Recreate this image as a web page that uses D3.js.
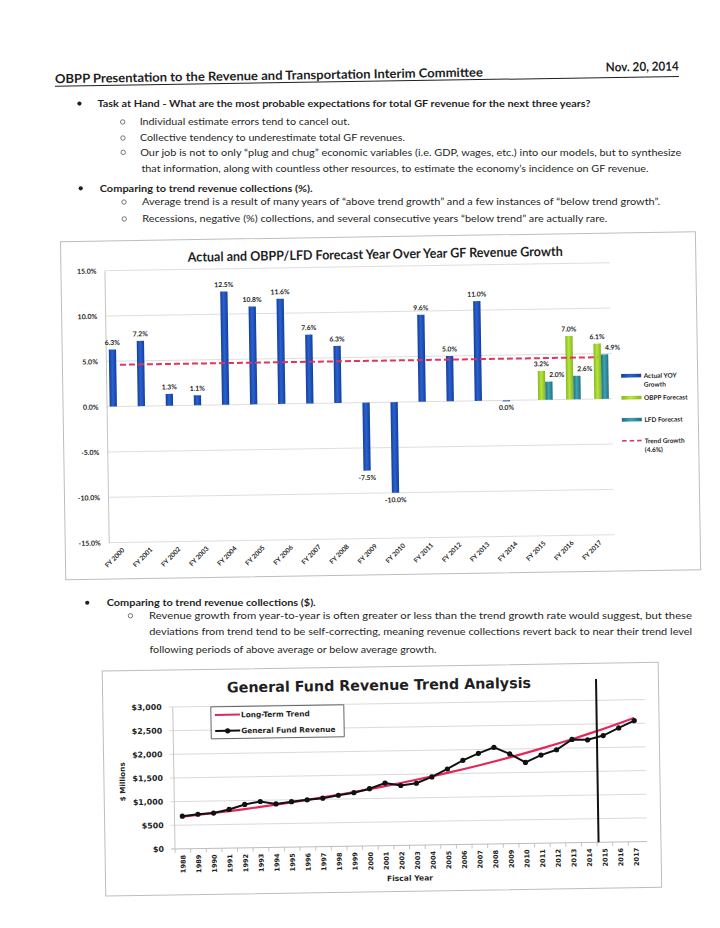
<!DOCTYPE html>
<html>
<head>
<meta charset="utf-8">
<script src="https://cdn.jsdelivr.net/npm/d3@7"></script>
<style>
  body { margin: 0; background: #fff; }
  svg { display: block; }
</style>
</head>
<body>
<div id="canvas"></div>
<script>
/* YOY growth chart */
const fiscalYears = ["FY 2000", "FY 2001", "FY 2002", "FY 2003", "FY 2004", "FY 2005", "FY 2006", "FY 2007", "FY 2008",
    "FY 2009", "FY 2010", "FY 2011", "FY 2012", "FY 2013", "FY 2014", "FY 2015", "FY 2016", "FY 2017"];
const actualGrowth = [6.3, 7.2, 1.3, 1.1, 12.5, 10.8, 11.6, 7.6, 6.3, -7.5, -10.0, 9.6, 5.0, 11.0, 0.0, null, null, null];
const obppForecast = [null, null, null, null, null, null, null, null, null, null, null, null, null, null, null, 3.2, 7.0, 6.1];
const lfdForecast = [null, null, null, null, null, null, null, null, null, null, null, null, null, null, null, 2.0, 2.6, 4.9];
const trendGrowth = 4.6;
const growthTicks = [-15, -10, -5, 0, 5, 10, 15];

/* revenue trend chart */
const revenueYears = ["1988", "1989", "1990", "1991", "1992", "1993", "1994", "1995", "1996", "1997", "1998", "1999", "2000",
    "2001", "2002", "2003", "2004", "2005", "2006", "2007", "2008", "2009", "2010", "2011", "2012", "2013", "2014",
    "2015", "2016", "2017"];
const gfRevenue = [689, 725, 746, 817, 917, 974, 917, 960, 995, 1023, 1080, 1130, 1208, 1322, 1265, 1308, 1436, 1599,
    1777, 1919, 2040, 1898, 1713, 1862, 1969, 2182, 2168, 2253, 2409, 2559];
const longTermTrend = [680, 712, 746, 782, 820, 860, 902, 946, 992, 1040, 1091, 1144, 1199, 1257, 1318, 1381, 1447, 1516,
    1588, 1663, 1741, 1823, 1908, 1997, 2090, 2187, 2288, 2393, 2503, 2617];
const revenueTicks = [0, 500, 1000, 1500, 2000, 2500, 3000];
const forecastStart = "2015";
const dividerTop = 3450;

const width = 720;
const height = 928;
const body = "Lato, 'Liberation Sans', sans-serif";
const verdana = "'DejaVu Sans', Verdana, sans-serif";
const ink = "#1f1f1f";

const svg = d3.select("#canvas").append("svg")
    .attr("width", width)
    .attr("height", height);
svg.append("rect").attr("width", width).attr("height", height).attr("fill", "#fff");

const defs = svg.append("defs");
function barGradient(id, edge, mid) {
    const gr = defs.append("linearGradient").attr("id", id)
        .attr("x1", 0).attr("x2", 1).attr("y1", 0).attr("y2", 0);
    gr.append("stop").attr("offset", 0).attr("stop-color", edge);
    gr.append("stop").attr("offset", 0.45).attr("stop-color", mid);
    gr.append("stop").attr("offset", 1).attr("stop-color", edge);
}
barGradient("gActual", "#143e9c", "#2a62d0");
barGradient("gObpp", "#84b81c", "#b8e440");
barGradient("gLfd", "#21707f", "#3ea3b3");

// the scanned page is a little crooked
const tilt = -0.9;
const page = svg.append("g").attr("transform", `rotate(${tilt},360,464)`);
const flat = svg.append("g");

function rot(x, y) {
    const a = tilt * Math.PI / 180;
    const dx = x - 360, dy = y - 464;
    return [360 + dx * Math.cos(a) - dy * Math.sin(a), 464 + dx * Math.sin(a) + dy * Math.cos(a)];
}

// body text lines stay level, only their position follows the tilt
function textLine(str, x, y, w, size, weight, mark) {
    const start = rot(x, y);
    const my = rot(x + w / 2, y)[1];
    flat.append("text")
        .attr("x", start[0]).attr("y", my)
        .attr("font-family", body)
        .attr("font-size", size)
        .attr("font-weight", weight || "normal")
        .attr("fill", ink)
        .attr("textLength", w)
        .attr("lengthAdjust", "spacingAndGlyphs")
        .text(str);
    if (mark === "dot") {
        flat.append("circle").attr("cx", rot(85, y)[0]).attr("cy", my - 3.6).attr("r", 2.1).attr("fill", ink);
    } else if (mark === "o") {
        flat.append("circle").attr("cx", rot(128, y)[0]).attr("cy", my - 3.3).attr("r", 2.2)
            .attr("fill", "none").attr("stroke", "#555").attr("stroke-width", 0.8);
    }
}

/* ---- page text ---- */
const head = page.append("g").attr("font-family", body).attr("font-size", 12.5)
    .attr("font-weight", "bold").attr("fill", ink);
head.append("text").attr("x", 61).attr("y", 78.5)
    .attr("textLength", 428).attr("lengthAdjust", "spacingAndGlyphs")
    .text("OBPP Presentation to the Revenue and Transportation Interim Committee");
head.append("text").attr("x", 612).attr("y", 75.5)
    .attr("textLength", 73).attr("lengthAdjust", "spacingAndGlyphs")
    .text("Nov. 20, 2014");
page.append("line").attr("x1", 61).attr("x2", 685).attr("y1", 81.5).attr("y2", 81.5)
    .attr("stroke", ink).attr("stroke-width", 1);

textLine("Task at Hand - What are the most probable expectations for total GF revenue for the next three years?", 103, 107, 493, 10.2, "bold", "dot");
textLine("Individual estimate errors tend to cancel out.", 145, 123.5, 210, 10.2, null, "o");
textLine("Collective tendency to underestimate total GF revenues.", 145, 140, 265, 10.2, null, "o");
textLine("Our job is not to only \u201cplug and chug\u201d economic variables (i.e. GDP, wages, etc.) into our models, but to synthesize", 145, 156.5, 541, 10.2, null, "o");
textLine("that information, along with countless other resources, to estimate the economy\u2019s incidence on GF revenue.", 146, 173, 507, 10.2);
textLine("Comparing to trend revenue collections (%).", 104, 189.5, 213, 10.2, "bold", "dot");
textLine("Average trend is a result of many years of \u201cabove trend growth\u201d and a few instances of \u201cbelow trend growth\u201d.", 146, 206, 518, 10.2, null, "o");
textLine("Recessions, negative (%) collections, and several consecutive years \u201cbelow trend\u201d are actually rare.", 146, 222.5, 465, 10.2, null, "o");

textLine("Comparing to trend revenue collections ($).", 104.5, 604, 209, 10.2, "bold", "dot");
textLine("Revenue growth from year-to-year is often greater or less than the trend growth rate would suggest, but these", 146.5, 620, 543, 10.2, null, "o");
textLine("deviations from trend tend to be self-correcting, meaning revenue collections revert back to near their trend level", 146.5, 636, 543, 10.2);
textLine("following periods of above average or below average growth.", 146.5, 652, 287, 10.2);

/* ---- chart 1: YOY growth ---- */
const box1 = { x: 64, y: 237, w: 635, h: 338 };
const m1 = { left: 107.5, right: 613, top: 266.7, bottom: 538.7 };

page.append("rect").attr("x", box1.x).attr("y", box1.y).attr("width", box1.w).attr("height", box1.h)
    .attr("fill", "#fff").attr("stroke", "#bdbdbd").attr("stroke-width", 1);

const c1 = page.append("g");

const x0 = d3.scaleBand().domain(fiscalYears).range([m1.left, m1.right]);
const seriesKeys = ["actual", "obpp", "lfd"];
const x1 = d3.scaleBand().domain(seriesKeys).range([0, x0.bandwidth()]).paddingInner(0).paddingOuter(0.425);
const y1 = d3.scaleLinear().domain([-15, 15]).range([m1.bottom, m1.top]);

c1.selectAll("line.grid").data(growthTicks).enter().append("line")
    .attr("class", "grid")
    .attr("x1", m1.left).attr("x2", m1.right)
    .attr("y1", d => y1(d)).attr("y2", d => y1(d))
    .attr("stroke", "#d6d6d6").attr("stroke-width", 0.8);

const yAxis1 = c1.append("g")
    .attr("transform", `translate(${m1.left},0)`)
    .call(d3.axisLeft(y1).tickValues(growthTicks).tickSize(0).tickSizeOuter(0).tickPadding(8)
        .tickFormat(d => d.toFixed(1) + "%"));
yAxis1.select(".domain").attr("stroke", "#c4c4c4");
yAxis1.attr("font-family", body).attr("font-size", 7).attr("font-weight", "bold");
yAxis1.selectAll("text").attr("fill", ink);

c1.append("text")
    .attr("x", 378.5).attr("y", 259)
    .attr("text-anchor", "middle")
    .attr("font-family", body).attr("font-size", 13.2).attr("font-weight", "bold").attr("fill", ink)
    .attr("textLength", 375).attr("lengthAdjust", "spacingAndGlyphs")
    .text("Actual and OBPP/LFD Forecast Year Over Year GF Revenue Growth");

const barRows = [];
fiscalYears.forEach((fy, i) => {
    [["actual", actualGrowth[i]], ["obpp", obppForecast[i]], ["lfd", lfdForecast[i]]].forEach(([k, v]) => {
        if (v !== null) barRows.push({ fy: fy, key: k, value: v });
    });
});
const fills = { actual: "url(#gActual)", obpp: "url(#gObpp)", lfd: "url(#gLfd)" };

c1.selectAll("rect.bar").data(barRows).enter().append("rect")
    .attr("class", "bar")
    .attr("x", d => x0(d.fy) + x1(d.key))
    .attr("width", x1.bandwidth())
    .attr("y", d => y1(Math.max(0, d.value)))
    .attr("height", d => Math.max(1, Math.abs(y1(d.value) - y1(0))))
    .attr("fill", d => fills[d.key]);

c1.selectAll("text.val").data(barRows).enter().append("text")
    .attr("class", "val")
    .attr("x", d => x0(d.fy) + x1(d.key) + x1.bandwidth() / 2 + (d.key === "lfd" ? 8 : 0))
    .attr("y", d => d.value > 0 ? y1(d.value) - 4.5 : y1(d.value) + 9.5)
    .attr("text-anchor", "middle")
    .attr("font-family", body).attr("font-size", 6.8).attr("font-weight", "bold").attr("fill", ink)
    .text(d => d.value.toFixed(1) + "%");

const trendLine = d3.line()
    .x(d => x0(d) + x0.bandwidth() / 2)
    .y(() => y1(trendGrowth));
c1.append("path")
    .attr("d", trendLine(fiscalYears))
    .attr("fill", "none")
    .attr("stroke", "#e2345f").attr("stroke-width", 2)
    .attr("stroke-dasharray", "6,3");

c1.selectAll("text.fy").data(fiscalYears).enter().append("text")
    .attr("class", "fy")
    .attr("transform", d => `translate(${x0(d) + x0.bandwidth() / 2 + 2},${m1.bottom + 8}) rotate(-45)`)
    .attr("text-anchor", "end")
    .attr("font-family", body).attr("font-size", 6.6).attr("font-weight", "bold").attr("fill", ink)
    .text(d => d);

// legend
const leg1 = c1.append("g").attr("font-family", body).attr("font-size", 6.5)
    .attr("font-weight", "bold").attr("fill", ink);
[["gActual", 380, ["Actual YOY", "Growth"]], ["gObpp", 402, ["OBPP Forecast"]], ["gLfd", 424, ["LFD Forecast"]]]
    .forEach(([id, yy, lines]) => {
        leg1.append("rect").attr("x", 622.5).attr("y", yy - 1.8).attr("width", 20).attr("height", 3.6)
            .attr("fill", `url(#${id})`);
        lines.forEach((t, j) => {
            leg1.append("text").attr("x", 645).attr("y", yy + 2.5 + j * 8.8).text(t);
        });
    });
leg1.append("line").attr("x1", 622.5).attr("x2", 642.5).attr("y1", 445).attr("y2", 445)
    .attr("stroke", "#e2345f").attr("stroke-width", 1.6).attr("stroke-dasharray", "4.5,3");
leg1.append("text").attr("x", 645).attr("y", 447.8).text("Trend Growth");
leg1.append("text").attr("x", 645).attr("y", 456.6).text("(4.6%)");

/* ---- chart 2: revenue trend ---- */
const box2 = { x: 99, y: 667, w: 556, h: 225 };
const m2 = { left: 169, right: 638, top: 704, bottom: 846 };

page.append("rect").attr("x", box2.x).attr("y", box2.y).attr("width", box2.w).attr("height", box2.h)
    .attr("fill", "#fff").attr("stroke", "#bdbdbd").attr("stroke-width", 1);

const c2 = page.append("g");
const xr = d3.scaleBand().domain(revenueYears).range([m2.left, m2.right]);
const yr = d3.scaleLinear().domain([0, 3000]).range([m2.bottom, m2.top]);

c2.selectAll("line.grid").data(revenueTicks).enter().append("line")
    .attr("class", "grid")
    .attr("x1", m2.left - 4).attr("x2", m2.right + 3)
    .attr("y1", d => yr(d)).attr("y2", d => yr(d))
    .attr("stroke", d => d === 0 ? "#b5b5b5" : "#d6d6d6").attr("stroke-width", 0.9);
c2.append("line").attr("x1", m2.left).attr("x2", m2.left).attr("y1", m2.top).attr("y2", m2.bottom)
    .attr("stroke", "#c4c4c4");
c2.selectAll("line.xtick").data(revenueYears).enter().append("line")
    .attr("class", "xtick")
    .attr("x1", d => xr(d)).attr("x2", d => xr(d))
    .attr("y1", m2.bottom).attr("y2", m2.bottom + 4)
    .attr("stroke", "#b5b5b5").attr("stroke-width", 0.8);

c2.selectAll("text.ylab").data(revenueTicks).enter().append("text")
    .attr("class", "ylab")
    .attr("x", m2.left - 11).attr("y", d => yr(d)).attr("dy", "0.35em")
    .attr("text-anchor", "end")
    .attr("font-family", verdana).attr("font-size", 7.9).attr("font-weight", "bold").attr("fill", ink)
    .text(d => d3.format("$,")(d));

c2.selectAll("text.xlab").data(revenueYears).enter().append("text")
    .attr("class", "xlab")
    .attr("transform", d => `translate(${xr(d) + xr.bandwidth() / 2 + 2.4},${m2.bottom + 6}) rotate(-90)`)
    .attr("text-anchor", "end")
    .attr("font-family", verdana).attr("font-size", 6.6).attr("font-weight", "bold").attr("fill", ink)
    .text(d => d);

c2.append("text")
    .attr("x", (m2.left + m2.right) / 2).attr("y", 881.5)
    .attr("text-anchor", "middle")
    .attr("font-family", verdana).attr("font-size", 7.6).attr("font-weight", "bold").attr("fill", ink)
    .text("Fiscal Year");
c2.append("text")
    .attr("transform", `translate(120,${(m2.top + m2.bottom) / 2 + 3}) rotate(-90)`)
    .attr("text-anchor", "middle")
    .attr("font-family", verdana).attr("font-size", 7.2).attr("font-weight", "bold").attr("fill", ink)
    .text("$ Millions");

c2.append("text")
    .attr("x", 375.5).attr("y", 690.5)
    .attr("text-anchor", "middle")
    .attr("font-family", verdana).attr("font-size", 14.5).attr("font-weight", "bold").attr("fill", ink)
    .attr("textLength", 304).attr("lengthAdjust", "spacingAndGlyphs")
    .text("General Fund Revenue Trend Analysis");

const cx = d => xr(d) + xr.bandwidth() / 2;
const trendPath = d3.line().x((d, i) => cx(revenueYears[i])).y(d => yr(d)).curve(d3.curveMonotoneX);
const revPath = d3.line().x((d, i) => cx(revenueYears[i])).y(d => yr(d));

c2.append("path").attr("d", trendPath(longTermTrend))
    .attr("fill", "none").attr("stroke", "#e2285a").attr("stroke-width", 2.2);
c2.append("path").attr("d", revPath(gfRevenue))
    .attr("fill", "none").attr("stroke", "#111").attr("stroke-width", 2);
c2.selectAll("circle.pt").data(gfRevenue).enter().append("circle")
    .attr("class", "pt")
    .attr("cx", (d, i) => cx(revenueYears[i]))
    .attr("cy", d => yr(d))
    .attr("r", 2.6)
    .attr("fill", "#111");

// forecast divider
c2.append("line")
    .attr("x1", xr(forecastStart) + 1.5).attr("x2", xr(forecastStart) + 1.5)
    .attr("y1", yr(dividerTop)).attr("y2", yr(0))
    .attr("stroke", "#111").attr("stroke-width", 2);

// legend
const leg2 = c2.append("g").attr("font-family", verdana).attr("font-size", 7.4)
    .attr("font-weight", "bold").attr("fill", ink);
leg2.append("rect").attr("x", 207).attr("y", 704.5).attr("width", 133).attr("height", 32)
    .attr("fill", "#fff").attr("stroke", "#555").attr("stroke-width", 0.9);
leg2.append("line").attr("x1", 211).attr("x2", 236).attr("y1", 712.7).attr("y2", 712.7)
    .attr("stroke", "#e2285a").attr("stroke-width", 2);
leg2.append("text").attr("x", 237).attr("y", 715.4).text("Long-Term Trend");
leg2.append("line").attr("x1", 211).attr("x2", 236).attr("y1", 728.7).attr("y2", 728.7)
    .attr("stroke", "#111").attr("stroke-width", 2);
leg2.append("circle").attr("cx", 223.5).attr("cy", 728.7).attr("r", 2.6).attr("fill", "#111");
leg2.append("text").attr("x", 237).attr("y", 731.4).text("General Fund Revenue");
</script>
</body>
</html>
